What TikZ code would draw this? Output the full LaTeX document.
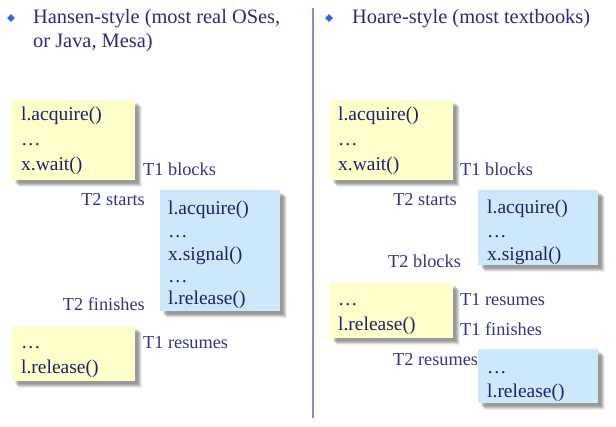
\documentclass[tikz,border=0pt]{standalone}
\usepackage{fontspec}
\setmainfont{Liberation Serif}
\usetikzlibrary{shadows,shapes.geometric}
\definecolor{headcol}{HTML}{2A2A80}
\definecolor{codecol}{HTML}{20206A}
\definecolor{labcol}{HTML}{33338F}
\definecolor{bulletcol}{HTML}{2868D8}
\definecolor{rulecol}{HTML}{8C8CD0}
\definecolor{yellowbox}{HTML}{FFFFCC}
\definecolor{bluebox}{HTML}{CCE8FA}
\begin{document}
\begin{tikzpicture}[x=1pt,y=-1pt,
  softshadow/.style={
    general shadow={shadow xshift=3pt,shadow yshift=-3pt,fill=black,opacity=0.10},
    general shadow={shadow xshift=4pt,shadow yshift=-4pt,fill=black,opacity=0.10},
    general shadow={shadow xshift=5pt,shadow yshift=-5pt,fill=black,opacity=0.12},
    general shadow={shadow xshift=6pt,shadow yshift=-6pt,fill=black,opacity=0.10},
    general shadow={shadow xshift=7pt,shadow yshift=-7pt,fill=black,opacity=0.06}},
  codebox/.style={draw=none,anchor=north west,inner sep=0pt,softshadow},
  ybox/.style={codebox,fill=yellowbox},
  bbox/.style={codebox,fill=bluebox},
  code/.style={anchor=base west,inner sep=0pt,text=codecol,font=\fontsize{19.5}{22}\selectfont},
  lab/.style={anchor=base west,inner sep=0pt,text=labcol,font=\fontsize{18.3}{20}\selectfont},
  labr/.style={lab,anchor=base east},
  head/.style={anchor=base west,inner sep=0pt,text=headcol,font=\fontsize{20.4}{24}\selectfont},
  bullet/.style={diamond,fill=bulletcol,inner sep=0pt,minimum size=8pt}]
\useasboundingbox (0,0) rectangle (616,426);

% column divider
\coordinate (rtop) at (313,8);
\coordinate (rbot) at (313,418);
\draw[rulecol,line width=2pt] (rtop) -- (rbot);

% headings
\node[bullet] (b1) at (11,18) {};
\node[head] (h1) at (33,23) {Hansen-style (most real OSes,};
\node[head] (h1b) at (33,47) {or Java, Mesa)};
\node[bullet] (b2) at (329,18) {};
\node[head] (h2) at (352,23) {Hoare-style (most textbooks)};

% ---- Hansen-style ----
\node[ybox,minimum width=123pt,minimum height=80pt] (ly1) at (12,100) {};
\node[code] (ly1a) at ([xshift=9pt,yshift=-20pt]ly1.north west) {l.acquire()};
\node[code] (ly1b) at ([xshift=9pt,yshift=-45pt]ly1.north west) {…};
\node[code] (ly1c) at ([xshift=9pt,yshift=-70pt]ly1.north west) {x.wait()};

\node[bbox,minimum width=120pt,minimum height=121pt] (lb1) at (160,190) {};
\node[code] (lb1a) at ([xshift=8pt,yshift=-24pt]lb1.north west) {l.acquire()};
\node[code] (lb1b) at ([xshift=8pt,yshift=-47pt]lb1.north west) {…};
\node[code] (lb1c) at ([xshift=8pt,yshift=-70pt]lb1.north west) {x.signal()};
\node[code] (lb1d) at ([xshift=8pt,yshift=-92pt]lb1.north west) {…};
\node[code] (lb1e) at ([xshift=8pt,yshift=-114pt]lb1.north west) {l.release()};

\node[ybox,minimum width=123pt,minimum height=55pt] (ly2) at (12,326) {};
\node[code] (ly2a) at ([xshift=9pt,yshift=-22pt]ly2.north west) {…};
\node[code] (ly2b) at ([xshift=9pt,yshift=-47pt]ly2.north west) {l.release()};

\node[lab] (l1) at (143,175) {T1 blocks};
\node[labr] (l2) at (145,205) {T2 starts};
\node[labr] (l3) at (145,310) {T2 finishes};
\node[lab] (l4) at (143,348) {T1 resumes};

% ---- Hoare-style ----
\node[ybox,minimum width=123pt,minimum height=80pt] (ry1) at (330,100) {};
\node[code] (ry1a) at ([xshift=8pt,yshift=-20pt]ry1.north west) {l.acquire()};
\node[code] (ry1b) at ([xshift=8pt,yshift=-45pt]ry1.north west) {…};
\node[code] (ry1c) at ([xshift=8pt,yshift=-70pt]ry1.north west) {x.wait()};

\node[bbox,minimum width=120pt,minimum height=75pt] (rb1) at (478,190) {};
\node[code] (rb1a) at ([xshift=9pt,yshift=-23pt]rb1.north west) {l.acquire()};
\node[code] (rb1b) at ([xshift=9pt,yshift=-47pt]rb1.north west) {…};
\node[code] (rb1c) at ([xshift=9pt,yshift=-70pt]rb1.north west) {x.signal()};

\node[ybox,minimum width=123pt,minimum height=55pt] (ry2) at (330,283) {};
\node[code] (ry2a) at ([xshift=8pt,yshift=-22pt]ry2.north west) {…};
\node[code] (ry2b) at ([xshift=8pt,yshift=-47pt]ry2.north west) {l.release()};

\node[bbox,minimum width=120pt,minimum height=54pt] (rb2) at (478,349) {};
\node[code] (rb2a) at ([xshift=9pt,yshift=-24pt]rb2.north west) {…};
\node[code] (rb2b) at ([xshift=9pt,yshift=-48pt]rb2.north west) {l.release()};

\node[lab] (r1) at (460,175) {T1 blocks};
\node[labr] (r2) at (457,205) {T2 starts};
\node[lab] (r3) at (388,267) {T2 blocks};
\node[lab] (r4) at (460,305) {T1 resumes};
\node[lab] (r5) at (460,335) {T1 finishes};
\node[lab] (r6) at (393,365) {T2 resumes};
\end{tikzpicture}
\end{document}
